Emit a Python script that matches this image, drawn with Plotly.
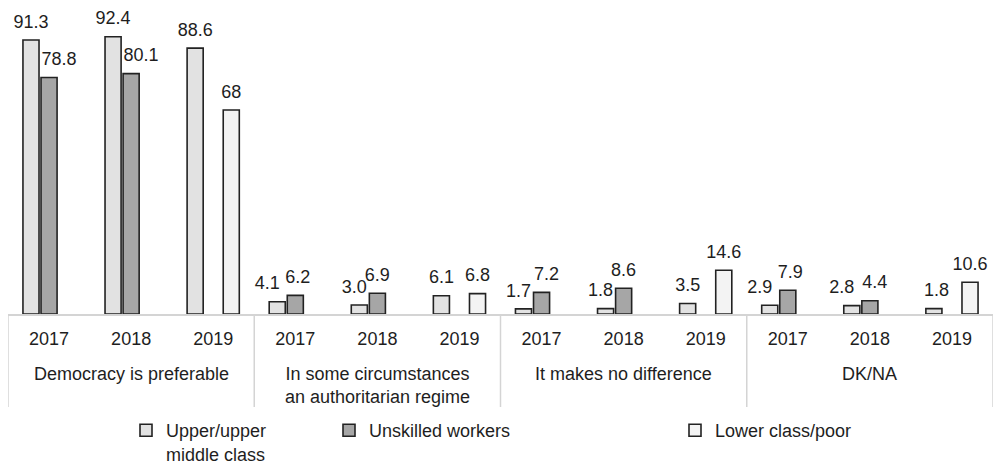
import plotly.graph_objects as go

groups = ["Democracy is preferable",
          "In some circumstances<br>an authoritarian regime",
          "It makes no difference",
          "DK/NA"]
years = ["2017", "2018", "2019"]

series_names = ["Upper/upper<br>middle class", "Unskilled workers", "Lower class/poor"]
upper = [91.3, 92.4, 88.6, 4.1, 3.0, 6.1, 1.7, 1.8, 3.5, 2.9, 2.8, 1.8]
unskilled = [78.8, 80.1, None, 6.2, 6.9, None, 7.2, 8.6, None, 7.9, 4.4, None]
lower = [None, None, 68, None, None, 6.8, None, None, 14.6, None, None, 10.6]

# horizontal nudges of the value labels (in half-space units, + = right), as in the source
upper_nudge = [0, 0, 0, -4, -2, 0, -2, -2, 0, -4, -4, 1]
unskilled_nudge = [4, 4, 0, 1, 0, 0, 2, 0, 0, 1, 2, 0]
lower_nudge = [0] * 12

colors = ["#e2e2e2", "#a6a6a6", "#f3f3f3"]
FONT = "Liberation Sans, Arial, sans-serif"
TXT = "#1e1e1e"
AXC = "#d4d4d4"
NB = "\u00a0"


def label(v, n):
    if v is None:
        return ""
    s = str(v)
    return NB * n + s if n > 0 else s + NB * (-n)


n_years = len(years)
n_cats = len(groups) * n_years
pos = list(range(n_cats))                       # category slots
tick_text = [y for _ in groups for y in years]

fig = go.Figure()
legends = ["legend", "legend2", "legend3"]
all_vals = [upper, unskilled, lower]
all_nudges = [upper_nudge, unskilled_nudge, lower_nudge]
for i, (name, vals, col, lg) in enumerate(zip(series_names, all_vals, colors, legends)):
    fig.add_trace(go.Bar(
        x=pos, y=vals, name=name, legend=lg, offsetgroup=str(i),
        marker=dict(color=col, line=dict(color="#222222", width=1.6)),
        hoverinfo="skip",
    ))
for i, (vals, nud) in enumerate(zip(all_vals, all_nudges)):
    fig.add_trace(go.Scatter(
        x=pos, y=vals, mode="markers+text", offsetgroup=str(i), showlegend=False,
        marker=dict(size=11, opacity=0),
        text=[label(v, n) for v, n in zip(vals, nud)],
        textposition="top center", cliponaxis=False,
        textfont=dict(size=18, color=TXT, family=FONT),
        hoverinfo="skip",
    ))

W, H = 997, 464
ml, mr, mt, mb = 8, 4, 4, 150
pw, ph = W - ml - mr, H - mt - mb


def px_x(p):
    return (p - ml) / pw


def px_y(p):
    return (H - mb - p) / ph


# group labels under the year labels, centred on each group
for g, name in enumerate(groups):
    fig.add_annotation(
        x=g * n_years + (n_years - 1) / 2, xref="x",
        y=px_y(362), yref="paper", yanchor="top", xanchor="center",
        text=name, showarrow=False, align="center",
        font=dict(size=18, color=TXT, family=FONT),
    )

# group dividers of the category table
for g in range(len(groups) + 1):
    fig.add_shape(
        type="line", xref="x", yref="paper",
        x0=g * n_years - 0.5, x1=g * n_years - 0.5, y0=0, y1=px_y(407),
        line=dict(color=AXC, width=1.5),
    )

leg_common = dict(orientation="v", bgcolor="rgba(0,0,0,0)", borderwidth=0,
                  font=dict(size=18, color=TXT, family=FONT),
                  xanchor="left", yanchor="top", valign="top",
                  itemwidth=30, tracegroupgap=0)

fig.update_layout(
    width=W, height=H,
    margin=dict(l=ml, r=mr, t=mt, b=mb, autoexpand=False),
    paper_bgcolor="white", plot_bgcolor="white",
    barmode="group", bargap=0.34, bargroupgap=0.11,
    scattermode="group", scattergap=0.34,
    font=dict(family=FONT, size=18, color=TXT),
    showlegend=True,
    legend=dict(x=px_x(126), y=px_y(412), **leg_common),
    legend2=dict(x=px_x(329), y=px_y(412), **leg_common),
    legend3=dict(x=px_x(675), y=px_y(412), **leg_common),
    xaxis=dict(range=[-0.5, n_cats - 0.5], tickmode="array", tickvals=pos, ticktext=tick_text,
               showline=True, linecolor=AXC, linewidth=1.5,
               ticks="outside", ticklen=8, tickcolor="rgba(0,0,0,0)",
               tickfont=dict(size=18, color=TXT, family=FONT),
               showgrid=False, zeroline=False, fixedrange=True),
    yaxis=dict(range=[0, 103.3], visible=False, showgrid=False, zeroline=False, fixedrange=True),
)

fig.write_html("out.html", config={"displayModeBar": False},
               post_script="document.body.style.margin='0';document.body.style.overflow='hidden';")
